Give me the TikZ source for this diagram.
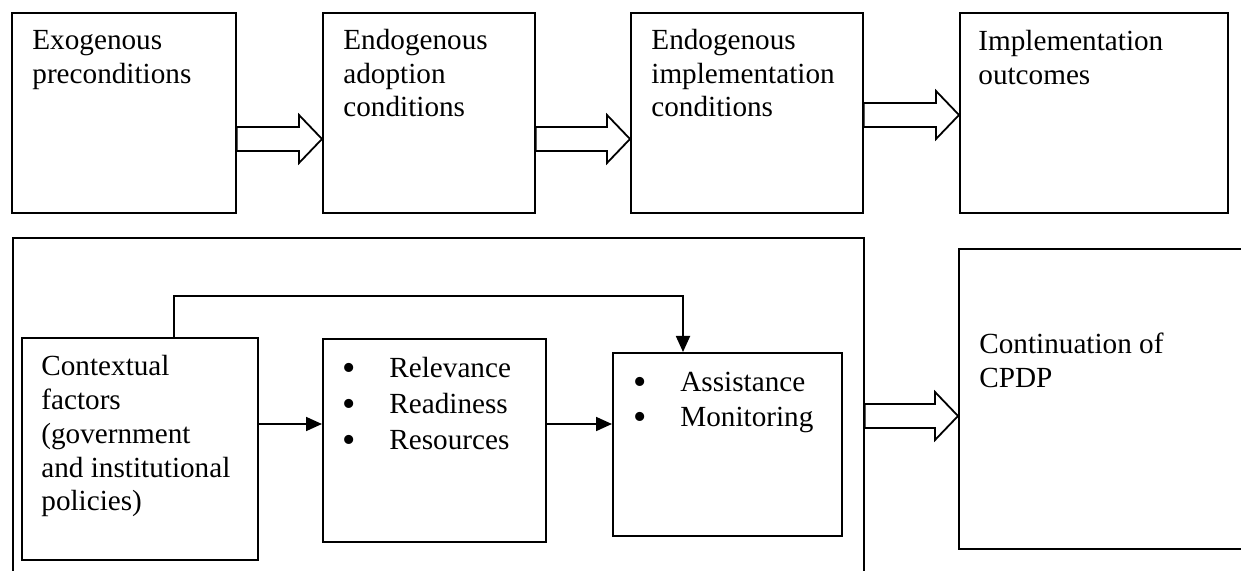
\documentclass[tikz,border=0pt]{standalone}
\usepackage{fontspec}
\setmainfont{Liberation Serif}
\usetikzlibrary{arrows.meta}

\newcommand{\dotitem}{\makebox[23.5pt][l]{\raisebox{-1.4pt}{\fontsize{19}{19}\selectfont\textbullet}}}

\tikzset{
    box/.style={draw, line width=0.9pt, anchor=north west, inner sep=0pt},
    txt/.style={anchor=north west, inner sep=0pt, align=left},
    fat/.style={draw, line width=0.9pt, fill=white, line join=miter},
    link/.style={line width=0.9pt, -{Triangle[length=8pt,width=7pt]}}
}

\begin{document}
\begin{tikzpicture}[x=0.5pt, y=-0.5pt, font=\fontsize{14.6}{16.75}\selectfont]
    \clip (0,0) rectangle (1241,571);

    % Top row of boxes
    \node[box, minimum width=112pt, minimum height=100pt] (exo) at (11,12) {};
    \node[box, minimum width=106pt, minimum height=100pt] (adopt) at (322,12) {};
    \node[box, minimum width=116pt, minimum height=100pt] (impl) at (630,12) {};
    \node[box, minimum width=134pt, minimum height=100pt] (outc) at (959,12) {};

    \node[txt] (exo text) at ([shift={(21,18)}]exo.north west) {Exogenous\\preconditions};
    \node[txt] (adopt text) at ([shift={(21,17)}]adopt.north west) {Endogenous\\adoption\\conditions};
    \node[txt] (impl text) at ([shift={(21,17)}]impl.north west) {Endogenous\\implementation\\conditions};
    \node[txt] (outc text) at ([shift={(19,18)}]outc.north west) {Implementation\\outcomes};

    % Bottom frame and its boxes
    \node[box, minimum width=425.5pt, minimum height=200pt] (frame) at (12,237) {};
    \node[box, minimum width=118pt, minimum height=111pt] (ctx) at (21,337) {};
    \node[box, minimum width=111.5pt, minimum height=101.5pt] (rel) at (322,338) {};
    \node[box, minimum width=114.5pt, minimum height=91.5pt] (asst) at (612,352) {};
    \node[box, minimum width=170pt, minimum height=150pt] (cont) at (958,248) {};

    \node[txt, font=\fontsize{14.6}{16.9}\selectfont] (ctx text) at ([shift={(20,18)}]ctx.north west)
        {Contextual\\factors\\(government\\and institutional\\policies)};
    \node[txt, font=\fontsize{14.6}{18}\selectfont] (rel text) at ([shift={(20,19)}]rel.north west)
        {\dotitem Relevance\\\dotitem Readiness\\\dotitem Resources};
    \node[txt, font=\fontsize{14.6}{17.5}\selectfont] (asst text) at ([shift={(21,20)}]asst.north west)
        {\dotitem Assistance\\\dotitem Monitoring};
    \node[txt, font=\fontsize{14.6}{17}\selectfont] (cont text) at ([shift={(21,85)}]cont.north west)
        {Continuation of\\CPDP};

    % Thin arrows
    \draw[link] (ctx.east |- 0,424) -- (rel.west |- 0,424);
    \draw[link] (rel.east |- 0,424) -- (asst.west |- 0,424);
    \coordinate (bend) at (683,296);
    \draw[link] (174,0 |- ctx.north) |- (bend) -- (bend |- asst.north);

    % Block arrows
    \foreach \a/\b/\y in {exo/adopt/139, adopt/impl/139, impl/outc/115, frame/cont/416}
        \draw[fat] (\b.west |- 0,\y) -- ++(-23,-24) -- ++(0,12) coordinate (u)
            -- (\a.east |- u) -- (\a.east |- 0,\y+12) -- (u |- 0,\y+12) -- ++(0,12) -- cycle;
\end{tikzpicture}
\end{document}
